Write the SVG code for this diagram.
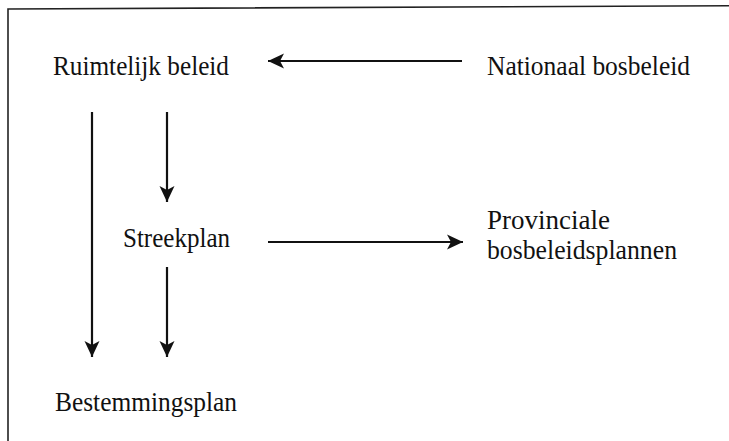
<svg xmlns="http://www.w3.org/2000/svg" width="729" height="441" viewBox="0 0 729 441">
<defs>
<style>
.t{font-family:"Liberation Serif","Times New Roman",serif;font-size:27px;fill:#111}
.c{stroke:#111;stroke-width:2.2;fill:none}
.b{stroke:#222;stroke-width:1.6;fill:none}
</style>
<marker id="ah" markerUnits="userSpaceOnUse" markerWidth="20" markerHeight="18" viewBox="-18 -9 20 18" refX="0" refY="0" orient="auto">
<path d="M0,0 L-16,-7.5 L-12,0 L-16,7.5 Z" fill="#111"/>
</marker>
</defs>
<rect width="729" height="441" fill="#fff"/>
<g id="frame">
<path class="b" d="M8,441 L8,9 L729,5.8"/>
</g>
<g id="connectors">
<line class="c" x1="462" y1="61" x2="268" y2="61" marker-end="url(#ah)"/>
<line class="c" x1="92" y1="112" x2="92" y2="357" marker-end="url(#ah)"/>
<line class="c" x1="167" y1="112" x2="167" y2="202" marker-end="url(#ah)"/>
<line class="c" x1="167" y1="267" x2="167" y2="357" marker-end="url(#ah)"/>
<line class="c" x1="268" y1="242" x2="463" y2="242" marker-end="url(#ah)"/>
</g>
<g id="ruimtelijk-beleid"><text class="t" x="53" y="75" textLength="176" lengthAdjust="spacingAndGlyphs">Ruimtelijk beleid</text></g>
<g id="nationaal-bosbeleid"><text class="t" x="487" y="75" textLength="203" lengthAdjust="spacingAndGlyphs">Nationaal bosbeleid</text></g>
<g id="streekplan"><text class="t" x="123" y="247" textLength="107" lengthAdjust="spacingAndGlyphs">Streekplan</text></g>
<g id="provinciale-bosbeleidsplannen">
<text class="t" x="487" y="229" textLength="123" lengthAdjust="spacingAndGlyphs">Provinciale</text>
<text class="t" x="487" y="259" textLength="190" lengthAdjust="spacingAndGlyphs">bosbeleidsplannen</text>
</g>
<g id="bestemmingsplan"><text class="t" x="55" y="411" textLength="182" lengthAdjust="spacingAndGlyphs">Bestemmingsplan</text></g>
</svg>
